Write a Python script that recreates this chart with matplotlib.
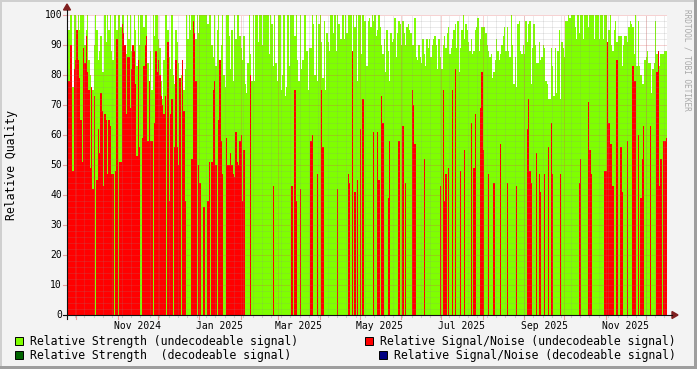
import numpy as np
import matplotlib
matplotlib.use("Agg")
import matplotlib.pyplot as plt
from matplotlib.patches import Rectangle, Polygon
from matplotlib.lines import Line2D
import matplotlib.dates as mdates
import datetime as dt

# ---------------- data ----------------
start_date = dt.date(2024, 9, 24)

# Relative Strength (undecodeable signal), one value per day
green = [
    83, 95, 100, 100, 76, 100, 100, 95, 100, 95,
    100, 100, 100, 90, 95, 100, 85, 80, 76, 75,
    90, 100, 95, 85, 88, 93, 81, 81, 100, 91,
    100, 95, 100, 88, 85, 100, 100, 95, 100, 100,
    96, 100, 100, 90, 87, 100, 92, 100, 88, 85,
    100, 95, 83, 100, 90, 100, 100, 96, 100, 100,
    84, 78, 88, 75, 100, 93, 100, 100, 92, 89,
    78, 72, 85, 100, 100, 95, 86, 82, 100, 80,
    77, 95, 91, 84, 72, 80, 69, 75, 82, 100,
    92, 100, 95, 100, 100, 100, 92, 100, 94, 100,
    100, 100, 100, 100, 100, 97, 100, 100, 90, 86,
    100, 83, 95, 100, 78, 90, 100, 80, 76, 100,
    100, 93,
    82, 95, 78, 100, 92, 100, 100, 93, 89, 85,
    93, 77, 74, 84, 100, 87, 78, 100, 78, 100,
    100, 91, 100, 100, 90, 100, 100, 100, 100, 87,
    100, 97, 83, 100, 84, 78, 100, 100, 75, 80,
    100, 73, 76, 100, 83, 100, 100, 100, 93, 100,
    85, 78, 100, 82, 85, 100, 100, 88, 75, 89,
    89, 100, 97, 80, 100, 78, 97, 100, 91, 79,
    98, 75, 94, 91, 88, 100, 100, 94, 100, 88,
    100, 97, 92, 92, 100, 92, 100, 94, 100, 100,
    100, 78, 100, 96, 100, 78, 100, 100, 87, 100,
    98, 98, 83, 98, 99, 96, 100, 98, 100, 93,
    95, 100, 96, 90, 87, 92, 81, 95, 88, 78,
    94, 91, 92, 99, 86, 94, 98, 97, 90, 98,
    94, 90, 96, 97, 95, 94, 90, 90, 99, 86,
    85, 90, 86, 84, 92, 87, 83, 92, 89, 92,
    86, 90, 92, 93, 90, 82, 92, 86, 82, 90,
    93, 89, 94, 96, 87, 89, 92, 95, 97, 89,
    98, 81, 89, 95, 100, 92, 97, 95, 91, 88,
    92, 87, 88, 95, 96, 99, 88, 92, 96, 96,
    96, 94, 90, 88, 86, 87, 79, 81, 85, 92,
    88, 85, 87, 90, 93, 96, 88, 96, 88, 86,
    100, 90, 77, 86, 76, 97, 98, 88, 87, 90,
    87, 98, 91, 97, 98, 77, 89, 97, 90, 84,
    84, 91, 85, 86, 90, 89, 78, 77, 72, 72,
    89, 83, 73, 89, 74, 88, 95, 72, 91, 89,
    86, 98, 98, 100, 99, 100, 100, 100, 96, 92,
    100, 94, 100, 100, 92, 100, 100, 100, 96, 100,
    100, 100, 92, 100, 100, 100, 92, 100, 100, 92,
    100, 100, 91, 95, 100, 90, 88, 95, 98, 91,
    93, 93, 93, 83, 90, 93, 93, 91, 96, 98,
    97, 96, 87, 100, 83, 98, 83, 80, 77, 77,
    85, 86, 88, 84, 84, 74, 82, 84, 98, 87,
    81, 83, 87, 87, 87, 88, 88,
]

# Relative Signal/Noise (undecodeable signal): dense first part, daily
red_dense = [
    58, 78, 90, 90, 48, 82, 85, 95, 85, 79,
    65, 51, 89, 84, 93, 81, 75, 49, 76, 42,
    73, 0, 45, 62, 54, 74, 68, 43, 67, 65,
    47, 65, 63, 47, 47, 0, 48, 92, 0, 51,
    51, 97, 94, 90, 67, 86, 86, 69, 82, 90,
    88, 77, 53, 85, 56, 0, 59, 83, 90, 93,
    58, 78, 58, 58, 0, 64, 88, 81, 85, 80,
    73, 70, 67, 73, 0, 91, 38, 67, 72, 0,
    56, 85, 56, 50, 79, 0, 85, 68, 38, 0,
    0, 0, 0, 52, 98, 94, 78, 0, 50, 44,
    0, 0, 36, 0, 0, 38, 51, 0, 51, 75,
    78, 50, 0, 65, 85, 58, 47, 0, 0, 59,
    50, 50, 54, 50, 47, 46, 61, 51, 50, 58,
    60, 38, 55, 0, 0, 0, 0, 80,
]
# later isolated spikes (day index from start, value)
red_spike_days = [154, 168, 170, 171, 174, 182, 183, 187, 190, 191,
                  202, 210, 211, 213, 215, 217, 219, 221, 229, 232,
                  233, 235, 236, 240, 241, 248, 251, 253, 258, 259,
                  260, 267, 279, 281, 282, 283, 285, 288, 290, 294,
                  297, 302, 304, 305, 309, 310, 311, 315, 319, 324,
                  329, 336, 344, 345, 346, 347, 351, 353, 354, 357,
                  360, 362, 363, 369, 383, 384, 390, 391, 392, 402,
                  403, 404, 405, 406, 407, 408, 411, 414, 415, 419,
                  423, 424, 425, 427, 429, 430, 431, 436, 441, 442,
                  443, 444, 446, 447, 448]
red_spike_vals = [43, 43, 75, 38, 42, 58, 60, 47, 75, 56,
                  42, 47, 44, 88, 41, 45, 62, 72, 61, 61,
                  45, 73, 64, 39, 58, 58, 63, 44, 75, 70,
                  57, 52, 43, 75, 38, 47, 49, 75, 82, 48,
                  55, 64, 49, 67, 69, 81, 55, 47, 44, 57,
                  44, 43, 62, 72, 48, 44, 54, 47, 41, 47,
                  56, 64, 47, 47, 44, 52, 71, 55, 47, 48,
                  48, 91, 64, 57, 57, 43, 85, 56, 41, 58,
                  83, 78, 78, 60, 39, 52, 63, 63, 81, 88,
                  43, 52, 58, 58, 59]

y_ticks = [0, 10, 20, 30, 40, 50, 60, 70, 80, 90, 100]
x_label_months = [(2024, 11), (2025, 1), (2025, 3), (2025, 5),
                  (2025, 7), (2025, 9), (2025, 11)]

legend_items = [
    ("Relative Strength (undecodeable signal)", "#7FFF00"),
    ("Relative Signal/Noise (undecodeable signal)", "#FF0000"),
    ("Relative Strength  (decodeable signal)", "#006400"),
    ("Relative Signal/Noise (decodeable signal)", "#000080"),
]

# ---------------- build series ----------------
N = len(green)
red = np.zeros(N)
red[:len(red_dense)] = red_dense
for d, v in zip(red_spike_days, red_spike_vals):
    if d < N:
        red[d] = v

# ---------------- figure ----------------
W, H = 697, 369
MONO = "DejaVu Sans Mono"
fig = plt.figure(figsize=(W / 100, H / 100), dpi=100)
fig.patch.set_facecolor("#F3F3F3")


def fx(x):
    return x / W


def fy(y):
    return 1 - y / H


L, R, B, T = 67, 667, 315, 15
ax = fig.add_axes([fx(L), fy(B), (R - L) / W, (B - T) / H])
ax.set_facecolor("white")
for s in ax.spines.values():
    s.set_visible(False)
ax.set_xticks([])
ax.set_yticks([])

x0 = mdates.date2num(start_date)
edges = x0 + np.arange(N + 1)
ax.stairs(green, edges, fill=True, color="#7FFF00", lw=0, zorder=2)
ax.stairs(red, edges, fill=True, color="#FF0000", lw=0, zorder=3)
ax.set_xlim(x0, x0 + N)
ax.set_ylim(0, 100)

minor_c = (0.56, 0.56, 0.56, 0.35)
major_c = (0.87, 0.31, 0.31, 0.5)
dot = (0, (1, 1))

# horizontal grid
for v in range(2, 100, 2):
    if v % 10 == 0:
        continue
    ax.axhline(v, color=minor_c, lw=0.72, ls=dot, zorder=5)
for v in y_ticks[1:]:
    ax.axhline(v, color=major_c, lw=0.72, ls=dot, zorder=6)

# vertical grid: weekly minor, monthly major
d = start_date
month_starts = []
weeks = []
cur = start_date
while cur <= start_date + dt.timedelta(days=N):
    if cur.day == 1:
        month_starts.append(cur)
    if cur.weekday() == 0:
        weeks.append(cur)
    cur += dt.timedelta(days=1)
for w in weeks:
    ax.axvline(mdates.date2num(w), color=minor_c, lw=0.72, ls=dot, zorder=5)
for m in month_starts:
    ax.axvline(mdates.date2num(m), color=major_c, lw=0.72, ls=dot, zorder=6)

# tick marks below x-axis
tr = ax.get_xaxis_transform()
for m in month_starts:
    xm = mdates.date2num(m)
    ax.add_line(Line2D([xm, xm], [0, -0.012], transform=tr, color=major_c,
                       lw=0.8, clip_on=False))
for w in weeks:
    xw = mdates.date2num(w)
    ax.add_line(Line2D([xw, xw], [0, -0.007], transform=tr, color=minor_c,
                       lw=0.8, clip_on=False))
# tick marks left of y-axis
tr2 = ax.get_yaxis_transform()
for v in y_ticks:
    ax.add_line(Line2D([0, -0.006], [v, v], transform=tr2, color=major_c,
                       lw=0.8, clip_on=False))

# axes lines + arrows
fig.add_artist(Line2D([fx(63), fx(672)], [fy(B), fy(B)], color="#101010",
                      lw=0.8, transform=fig.transFigure))
fig.add_artist(Line2D([fx(L), fx(L)], [fy(319), fy(10)], color="#101010",
                      lw=0.8, transform=fig.transFigure))
fig.add_artist(Polygon([[fx(672), fy(B - 3.5)], [fx(672), fy(B + 3.5)],
                        [fx(678), fy(B)]], closed=True, color="#7F1F1F",
                       transform=fig.transFigure))
fig.add_artist(Polygon([[fx(L - 3.5), fy(10)], [fx(L + 3.5), fy(10)],
                        [fx(L), fy(4)]], closed=True, color="#7F1F1F",
                       transform=fig.transFigure))

# y tick labels
for v in y_ticks:
    fig.text(fx(62), fy(B - 3 * v), str(v), ha="right", va="center",
             fontsize=7, family=MONO, color="black")

# x labels at mid-month
for (yy, mm) in x_label_months:
    xc = mdates.date2num(dt.date(yy, mm, 16))
    xp = L + (xc - x0) / N * (R - L)
    fig.text(fx(xp), fy(326), dt.date(yy, mm, 1).strftime("%b %Y"),
             ha="center", va="center", fontsize=7, family=MONO)

# axis title
fig.text(fx(12), fy(165), "Relative Quality", rotation=90, ha="center",
         va="center", fontsize=8.3, family=MONO)
# watermark
fig.text(fx(687), fy(60), "RRDTOOL / TOBI OETIKER", rotation=270,
         ha="center", va="center", fontsize=5.6, family=MONO, color="#A8A8A8")

# legend
legend_pos = [(15, 341, 30), (365, 341, 380), (15, 355, 30), (379, 355, 394)]
for (label, col), (bx, by, tx) in zip(legend_items, legend_pos):
    fig.add_artist(Rectangle((fx(bx), fy(by + 4)), 8 / W, 8 / H,
                             facecolor=col, edgecolor="black", lw=0.7,
                             transform=fig.transFigure))
    fig.text(fx(tx), fy(by), label, ha="left", va="center",
             fontsize=8.3, family=MONO)

# border shading
fig.add_artist(Rectangle((0, fy(2)), 1, 2 / H, color="#CFCFCF",
                         transform=fig.transFigure, lw=0))
fig.add_artist(Rectangle((0, 0), 2 / W, 1, color="#CFCFCF",
                         transform=fig.transFigure, lw=0))
fig.add_artist(Rectangle((0, 0), 1, 3 / H, color="#9E9E9E",
                         transform=fig.transFigure, lw=0))
fig.add_artist(Rectangle((fx(694), 0), 3 / W, 1, color="#9E9E9E",
                         transform=fig.transFigure, lw=0))

fig.savefig("out.png", dpi=100, facecolor=fig.get_facecolor())
